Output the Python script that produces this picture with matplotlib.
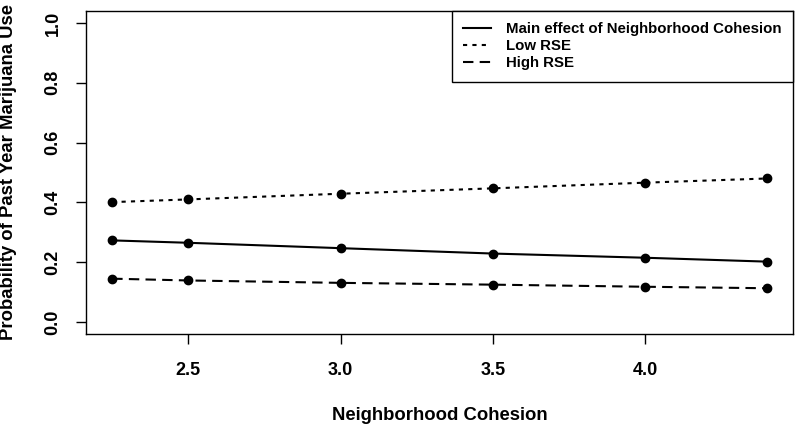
import matplotlib
matplotlib.use("Agg")
import matplotlib.pyplot as plt
from matplotlib.lines import Line2D

plt.rcParams['font.family'] = ['Liberation Sans', 'DejaVu Sans']
plt.rcParams['font.weight'] = 'bold'

# data
cohesion = [2.25, 2.5, 3.0, 3.5, 4.0, 4.4]
main_effect = [0.273, 0.265, 0.247, 0.229, 0.215, 0.202]
low_rse = [0.401, 0.410, 0.429, 0.447, 0.466, 0.480]
high_rse = [0.145, 0.139, 0.131, 0.125, 0.118, 0.113]

series_labels = ['Main effect of Neighborhood Cohesion', 'Low RSE', 'High RSE']
xticks = [2.5, 3.0, 3.5, 4.0]
yticks = [0.0, 0.2, 0.4, 0.6, 0.8, 1.0]

fig = plt.figure(figsize=(8, 4.25), dpi=100)
ax = fig.add_axes([86/800, 91/425, 707/800, 323/425])

lw = 1.5
styles = ['-', (0, (2, 2.5)), (0, (5, 3))]
for y, lab, st in zip([main_effect, low_rse, high_rse], series_labels, styles):
    ax.plot(cohesion, y, color='black', lw=lw, ls=st, marker='o', ms=6, label=lab)

ax.set_xlim(2.164, 4.486)
ax.set_ylim(-0.04, 1.04)
ax.set_xticks(xticks)
ax.set_xticklabels(['%.1f' % v for v in xticks])
ax.set_yticks(yticks)
ax.set_yticklabels(['%.1f' % v for v in yticks], rotation=90, va='center')
ax.tick_params(direction='out', length=7.5, width=1, labelsize=13)
ax.tick_params(axis='x', pad=13)
ax.tick_params(axis='y', pad=10)

for s in ax.spines.values():
    s.set_linewidth(1)

ax.set_xlabel('Neighborhood Cohesion', fontsize=13.3, fontweight='bold', labelpad=20)
ax.set_ylabel('Probability of Past Year Marijuana Use', fontsize=13.3, fontweight='bold', labelpad=20)

handles = [Line2D([], [], color='black', lw=lw, ls=st) for st in styles]
leg = ax.legend(handles, series_labels,
                loc='upper right', borderaxespad=0, fancybox=False, edgecolor='black',
                framealpha=1, fontsize=10.8, handlelength=1.9, handletextpad=1.0,
                labelspacing=0.2, borderpad=0.75)
leg.get_frame().set_linewidth(1)

fig.savefig('out.png', dpi=100)
